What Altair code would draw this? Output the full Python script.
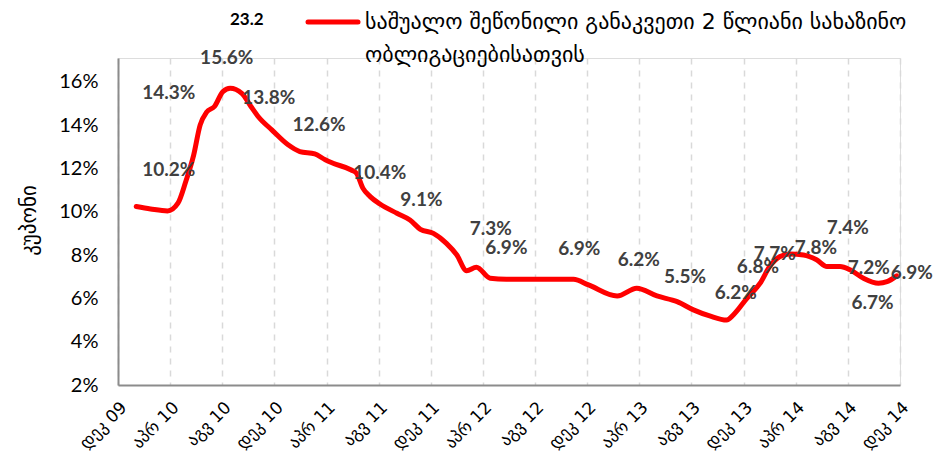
import altair as alt
import pandas as pd

# ---- data ----
# month index: 0 = Dec 2009, 60 = Dec 2014
line_month = [1.4, 2.5, 3.8, 4.6, 5.2, 5.8, 6.3, 6.8, 7.4, 8.05, 8.6, 9.5, 10.2, 10.75,
              11.8, 13.05, 13.95, 15.1, 15.9, 16.5, 17.9, 18.3, 18.8, 19.35, 20.1, 21.4,
              22.4, 23.2, 24.2, 25.2, 26.0, 26.75, 27.5, 28.55, 29.8, 32.1, 34.95, 36.1,
              38.3, 39.8, 41.35, 42.9, 44.15, 45.4, 46.7, 47.2, 48.25, 49.27, 50.0,
              50.8, 51.57, 52.6, 53.6, 54.4, 55.4, 56.2, 57.2, 58.35, 59.0, 59.75]
line_value = [10.24, 10.13, 10.04, 10.4, 11.4, 12.6, 14.0, 14.6, 14.86, 15.55, 15.7, 15.47,
              14.86, 14.4, 13.78, 13.09, 12.78, 12.67, 12.4, 12.24, 11.93, 11.78, 11.08,
              10.7, 10.36, 9.93, 9.62, 9.19, 9.0, 8.54, 8.0, 7.28, 7.44, 6.93, 6.88, 6.88,
              6.88, 6.62, 6.11, 6.47, 6.11, 5.85, 5.47, 5.19, 5.0, 5.23, 6.0, 6.7, 7.47,
              7.93, 8.05, 8.0, 7.78, 7.47, 7.47, 7.31, 6.93, 6.7, 6.77, 7.04]

label_text = ["10.2%", "14.3%", "15.6%", "13.8%", "12.6%", "10.4%", "9.1%", "7.3%", "6.9%",
              "6.9%", "6.2%", "5.5%", "6.2%", "6.8%", "7.7%", "7.8%", "7.4%", "7.2%",
              "6.7%", "6.9%"]
label_month = [3.9, 3.9, 8.34, 11.57, 15.43, 20.08, 23.28, 28.6, 29.8, 35.4, 39.96, 43.5,
               47.4, 49.1, 50.4, 53.55, 56.0, 57.6, 57.9, 60.9]
label_value = [11.93, 15.48, 17.09, 15.25, 14.01, 11.81, 10.55, 9.22, 8.33, 8.3, 7.78, 7.0,
               6.24, 7.44, 8.05, 8.32, 9.24, 7.39, 5.78, 7.16]

extra_text = ["23.2"]
extra_month = [9.88]
extra_value = [18.85]

tick_month = list(range(0, 61, 4))
tick_labels = ["დეკ 09", "აპრ 10", "აგვ 10", "დეკ 10", "აპრ 11", "აგვ 11", "დეკ 11",
               "აპრ 12", "აგვ 12", "დეკ 12", "აპრ 13", "აგვ 13", "დეკ 13", "აპრ 14",
               "აგვ 14", "დეკ 14"]
y_ticks = [2, 4, 6, 8, 10, 12, 14, 16]

series_name_lines = ["საშუალო შეწონილი განაკვეთი 2 წლიანი სახაზინო", "ობლიგაციებისათვის"]
y_title = "კუპონი"

# ---- chart ----
line_df = pd.DataFrame({"m": line_month, "v": line_value})
lab_df = pd.DataFrame({"m": label_month, "v": label_value, "t": label_text})
extra_df = pd.DataFrame({"m": extra_month, "v": extra_value, "t": extra_text})

label_js = "[" + ",".join("'" + s + "'" for s in tick_labels) + "]"

xscale = alt.Scale(domain=[0, 60], nice=False, zero=False)
yscale = alt.Scale(domain=[2, 17.1], nice=False, zero=False)

xaxis = alt.Axis(values=tick_month, labelExpr=label_js + "[round(datum.value/4)]",
                 labelAngle=-45, labelAlign="right", labelBaseline="top", labelPadding=14,
                 labelFont="DejaVu Sans", labelFontSize=17, labelColor="#000000",
                 grid=True, gridDash=[6, 6], gridColor="#d9d9d9", gridWidth=1.5,
                 ticks=False, domainColor="#8c8c8c", domainWidth=2, title=None,
                 labelOverlap=False)
yaxis = alt.Axis(values=y_ticks, labelExpr="datum.value + '%'", grid=False, ticks=False,
                 labelFont="Lato", labelFontSize=20, labelColor="#000000", labelPadding=20,
                 domainColor="#8c8c8c", domainWidth=2,
                 title=y_title, titleFont="DejaVu Sans", titleFontSize=21,
                 titleFontWeight="normal", titleColor="#000000", titleX=-89, titleY=162,
                 titleAngle=270, titleAlign="center", titleBaseline="middle")

line = alt.Chart(line_df).mark_line(
    color="#FF0000", strokeWidth=5, interpolate="monotone", strokeCap="round",
    strokeJoin="round"
).encode(
    x=alt.X("m:Q", scale=xscale, axis=xaxis),
    y=alt.Y("v:Q", scale=yscale, axis=yaxis),
)

labels = alt.Chart(lab_df).mark_text(
    font="Lato", fontSize=19, fontWeight="bold", color="#404040",
    align="center", baseline="middle"
).encode(x=alt.X("m:Q", scale=xscale), y=alt.Y("v:Q", scale=yscale), text="t:N")

extra = alt.Chart(extra_df).mark_text(
    font="Lato", fontSize=17, fontWeight="bold", color="#000000",
    align="center", baseline="middle"
).encode(x=alt.X("m:Q", scale=xscale), y=alt.Y("v:Q", scale=yscale), text="t:N")

legend_line = alt.Chart(pd.DataFrame({"k": [0]})).mark_rule(
    color="#FF0000", strokeWidth=5, strokeCap="round"
).encode(x=alt.value(190), x2=alt.value(240), y=alt.value(-36))

legend_text = alt.Chart(pd.DataFrame({"t": [series_name_lines]})).mark_text(
    font="DejaVu Sans", fontSize=22, color="#000000", align="left", baseline="middle",
    lineHeight=33
).encode(x=alt.value(247), y=alt.value(-36), text="t")

chart = alt.layer(line, labels, extra, legend_line, legend_text).properties(
    width=782, height=327,
    autosize=alt.AutoSizeParams(type="none"),
    padding={"left": 110, "top": 50, "right": 36, "bottom": 71},
).configure_view(stroke=None).configure(background="#ffffff")

chart.save("out.html", embed_options={"renderer": "svg", "actions": False})
